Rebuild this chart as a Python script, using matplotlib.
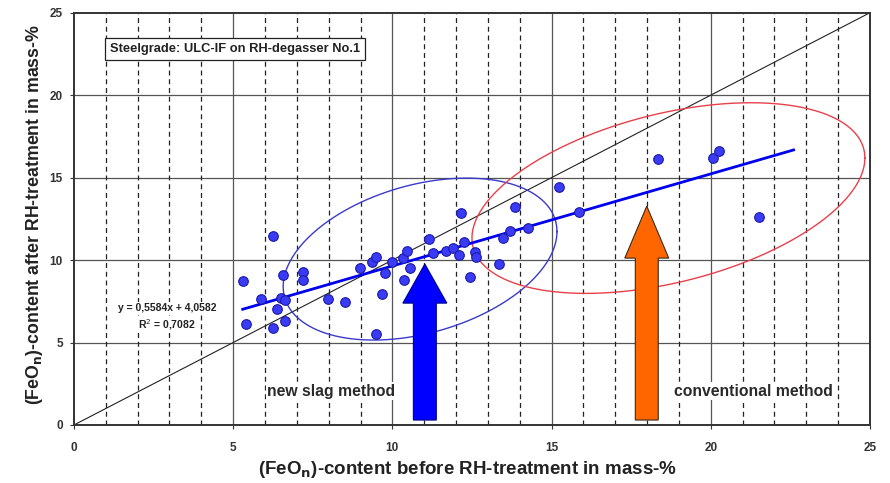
import numpy as np
import matplotlib
matplotlib.use("Agg")
import matplotlib.pyplot as plt
from matplotlib.patches import FancyArrow

plt.rcParams['font.family'] = ['Liberation Sans', 'DejaVu Sans']

# FeOn content before / after RH treatment (mass-%)
feo_before = [5.30, 5.40, 5.86, 6.24, 6.26, 6.39, 6.55, 6.50, 6.62, 6.64,
              7.20, 7.20, 7.97, 8.51, 8.98, 9.35, 9.49, 9.49, 9.69, 9.77,
              9.98, 10.32, 10.36, 10.45, 10.55, 11.16, 11.29, 11.70, 11.91, 12.10,
              12.25, 12.14, 12.59, 12.63, 12.44, 13.36, 13.46, 13.71, 13.85, 14.27,
              15.24, 15.87, 18.35, 20.06, 20.27, 21.52]
feo_after = [8.73, 6.14, 7.64, 5.86, 11.47, 7.01, 9.09, 7.70, 7.55, 6.32,
             9.25, 8.79, 7.64, 7.45, 9.54, 9.86, 10.18, 5.49, 7.92, 9.19,
             9.90, 10.10, 8.79, 10.57, 9.49, 11.25, 10.40, 10.57, 10.71, 10.30,
             11.09, 12.83, 10.50, 10.16, 8.99, 9.76, 11.31, 11.78, 13.23, 11.96,
             14.41, 12.89, 16.10, 16.16, 16.63, 12.59]

# linear trend line
slope, intercept = 0.5584, 4.0582
r_squared = 0.7082
trend_x = [5.3, 22.6]

# highlighted groups: centre, horizontal / vertical half-extent, correlation
groups = {
    "new":  dict(center=(10.87, 10.06), half=(4.30, 4.91), rho=0.34, color="#3a3acc"),
    "conv": dict(center=(18.67, 13.76), half=(6.17, 5.78), rho=0.42, color="#e8404a"),
}

# arrows: x, tip y, head base y
arrows = {
    "new":  dict(x=11.02, tip=9.76, head_base=7.39, color="#0000ff", edge="#00008b"),
    "conv": dict(x=17.99, tip=13.27, head_base=10.12, color="#ff6600", edge="#3a2a1a"),
}

fig = plt.figure(figsize=(8.9, 4.83), dpi=100)
ax = fig.add_axes([0.0831, 0.1201, 0.8944, 0.8536])
ax.set_xlim(0, 25)
ax.set_ylim(0, 25)

# grid: solid at major steps, dashed verticals at every integer
for v in range(5, 25, 5):
    ax.axvline(v, color="#555555", lw=0.9, zorder=1)
    ax.axhline(v, color="#555555", lw=0.9, zorder=1)
for v in range(1, 25):
    if v % 5:
        ax.axvline(v, color="#222222", lw=0.9, ls=(0, (4, 3)), zorder=1)

# y = x reference
ax.plot([0, 25], [0, 25], color="#222222", lw=0.8, zorder=2)

# group ellipses
t = np.linspace(0, 2 * np.pi, 400)
for g in groups.values():
    cx, cy = g["center"]
    hx, hy = g["half"]
    r = g["rho"]
    ex = cx + hx * np.cos(t)
    ey = cy + hy * (r * np.cos(t) + np.sqrt(1 - r ** 2) * np.sin(t))
    ax.plot(ex, ey, color=g["color"], lw=1.0, zorder=3)

# data points
ax.scatter(feo_before, feo_after, s=48, color="#3b3bf5", edgecolor="#1a1aa8",
           linewidth=0.8, zorder=5)

# trend line
tx = np.array(trend_x)
ax.plot(tx, slope * tx + intercept, color="#0000ee", lw=2.0, zorder=4)

# arrows
for a in arrows.values():
    base = 0.3
    ax.add_patch(FancyArrow(a["x"], base, 0, a["tip"] - base, width=0.72,
                            head_width=1.38, head_length=a["tip"] - a["head_base"],
                            length_includes_head=True, facecolor=a["color"],
                            edgecolor=a["edge"], lw=0.8, zorder=6))

# annotations
white_bg = dict(boxstyle="square,pad=0.1", facecolor="white", edgecolor="none")
ax.text(5.06, 22.8, "Steelgrade: ULC-IF on RH-degasser No.1", fontsize=9.3,
        fontweight="bold", ha="center", va="center", color="#222222",
        bbox=dict(boxstyle="square,pad=0.35", facecolor="white",
                  edgecolor="#222222", lw=0.9), zorder=7)
ax.text(2.92, 7.09, f"y = {slope:.4f}x + {intercept:.4f}".replace(".", ","),
        fontsize=7.5, fontweight="bold", ha="center", va="center", color="#222222",
        bbox=white_bg, zorder=7)
ax.text(2.92, 6.1, f"R$^2$ = {r_squared:.4f}".replace(".", ","),
        fontsize=7.5, fontweight="bold", ha="center", va="center", color="#222222",
        bbox=white_bg, zorder=7)
ax.text(8.09, 2.06, "new slag method", fontsize=11.3, fontweight="bold",
        ha="center", va="center", color="#2a2a2a", bbox=white_bg, zorder=7)
ax.text(21.34, 2.06, "conventional method", fontsize=11.3, fontweight="bold",
        ha="center", va="center", color="#2a2a2a", bbox=white_bg, zorder=7)

# axes styling
ax.set_xticks(range(0, 26, 5))
ax.set_yticks(range(0, 26, 5))
ax.tick_params(direction="out", length=3, width=0.8, labelsize=8.5, colors="#333333")
ax.tick_params(axis="x", pad=9)
ax.tick_params(axis="y", pad=5)
for lbl in ax.get_xticklabels() + ax.get_yticklabels():
    lbl.set_fontweight("bold")
for s in ax.spines.values():
    s.set_color("#333333")
    s.set_linewidth(1.4)

ax.set_xlabel("(FeO$_\\mathbf{n}$)-content before RH-treatment in mass-%",
              fontsize=13.5, fontweight="bold", color="#222222")
ax.set_ylabel("(FeO$_\\mathbf{n}$)-content after RH-treatment in mass-%",
              fontsize=12.8, fontweight="bold", color="#222222")
ax.xaxis.set_label_coords(0.495, -0.083)
ax.yaxis.set_label_coords(-0.036, 0.51)

fig.savefig("out.png", dpi=100)
